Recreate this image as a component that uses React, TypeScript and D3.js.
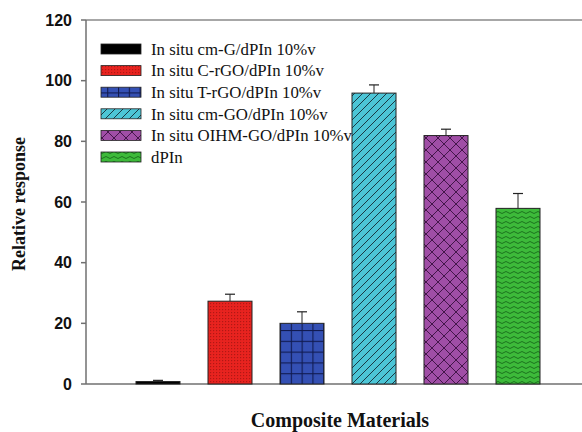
import React from "react";
import * as d3 from "d3";

const categories = [
  "In situ cm-G/dPIn 10%v",
  "In situ C-rGO/dPIn 10%v",
  "In situ T-rGO/dPIn 10%v",
  "In situ cm-GO/dPIn 10%v",
  "In situ OIHM-GO/dPIn 10%v",
  "dPIn",
];
const values = [0.8, 27.3, 20.0, 95.9, 81.9, 57.9];
const errors = [0.4, 2.3, 3.8, 2.7, 2.1, 4.9];
const yTicks = [0, 20, 40, 60, 80, 100, 120];

const patternIds = ["pBlack", "pRed", "pBlue", "pCyan", "pPurple", "pGreen"];

const W = 582;
const H = 432;
const left = 86;
const top = 20;
const bottom = 384;
const SERIF = "'Liberation Serif', 'Times New Roman', Times, serif";
const SANS = "'Liberation Sans', Arial, Helvetica, sans-serif";

export default function App() {
  const y = d3.scaleLinear().domain([0, 120]).range([bottom, top]);
  const x = d3.scaleLinear().domain([0, 7]).range([left, 590]);
  const bw = 44;

  return (
    <svg width={W} height={H} style={{ position: "absolute", left: 0, top: 0, background: "#fff" }}>
      <defs>
        <pattern id="pBlack" patternUnits="userSpaceOnUse" width="4" height="4">
          <rect width="4" height="4" fill="#000" />
        </pattern>
        <pattern id="pRed" patternUnits="userSpaceOnUse" width="3" height="3">
          <rect width="3" height="3" fill="#e8231f" />
          <rect width="1.2" height="1.2" fill="#9a1410" opacity="0.7" />
        </pattern>
        <pattern id="pBlue" patternUnits="userSpaceOnUse" width="10.8" height="10.8" x={x(3) - bw / 2} y={bottom}>
          <rect width="10.8" height="10.8" fill="#3450b4" />
          <line x1="0" y1="0.5" x2="10.8" y2="0.5" stroke="#101a50" strokeWidth="1.2" />
          <line x1="0.5" y1="0" x2="0.5" y2="10.8" stroke="#101a50" strokeWidth="1.2" />
        </pattern>
        <pattern id="pCyan" patternUnits="userSpaceOnUse" width="8" height="8">
          <rect width="8" height="8" fill="#4cc5d6" />
          <path d="M-2,2 L2,-2 M0,8 L8,0 M6,10 L10,6" stroke="#1a3a44" strokeWidth="1" />
        </pattern>
        <pattern id="pPurple" patternUnits="userSpaceOnUse" width="12" height="12">
          <rect width="12" height="12" fill="#a04ea6" />
          <path d="M0,0 L12,12 M12,0 L0,12" stroke="#3a1040" strokeWidth="0.9" />
        </pattern>
        <pattern id="pGreen" patternUnits="userSpaceOnUse" width="8" height="5">
          <rect width="8" height="5" fill="#3dba3a" />
          <path d="M0,2.5 Q2,0.5 4,2.5 T8,2.5" fill="none" stroke="#176a1a" strokeWidth="0.9" />
        </pattern>
      </defs>

      {/* frame lines */}
      <line x1={left} y1={top} x2={W} y2={top} stroke="#8a8a8a" strokeWidth={1.5} />
      <line x1={left} y1={bottom} x2={W} y2={bottom} stroke="#707070" strokeWidth={1.5} />
      <line x1={left} y1={top} x2={left} y2={bottom} stroke="#707070" strokeWidth={1.5} />

      {/* y ticks */}
      {yTicks.map((t) => (
        <g key={t}>
          <line x1={left - 5} y1={y(t)} x2={left} y2={y(t)} stroke="#707070" strokeWidth={1.5} />
          <text
            x={72}
            y={y(t)}
            dy="0.36em"
            textAnchor="end"
            style={{ fontFamily: SANS }}
            fontWeight="bold"
            fontSize={16}
            fill="#111"
          >
            {t}
          </text>
        </g>
      ))}

      {/* bars */}
      {values.map((v, i) => {
        const cx = x(i + 1);
        const e = errors[i];
        return (
          <g key={i}>
            <line x1={cx} y1={y(v)} x2={cx} y2={y(v + e)} stroke="#222" strokeWidth={1} />
            <line x1={cx - 5} y1={y(v + e)} x2={cx + 5} y2={y(v + e)} stroke="#222" strokeWidth={1.2} />
            <rect
              x={cx - bw / 2}
              y={y(v)}
              width={bw}
              height={bottom - y(v)}
              fill={`url(#${patternIds[i]})`}
              stroke="#222"
              strokeWidth={1}
            />
          </g>
        );
      })}

      {/* legend */}
      {categories.map((c, i) => {
        const ly = 49 + i * 21.6;
        return (
          <g key={c}>
            <rect x={101} y={ly - 5} width={40} height={10} fill={`url(#${patternIds[i]})`} stroke="#222" strokeWidth={0.8} />
            <text x={151} y={ly} dy="0.35em" style={{ fontFamily: SERIF }} fontSize={16.8} fill="#111">
              {c}
            </text>
          </g>
        );
      })}

      {/* axis titles */}
      <text
        transform={`translate(25, 204) rotate(-90)`}
        textAnchor="middle"
        style={{ fontFamily: SERIF }}
        fontWeight="bold"
        fontSize={18}
        fill="#111"
      >
        Relative response
      </text>
      <text x={340} y={427} textAnchor="middle" style={{ fontFamily: SERIF }} fontWeight="bold" fontSize={20} fill="#111">
        Composite Materials
      </text>
    </svg>
  );
}
